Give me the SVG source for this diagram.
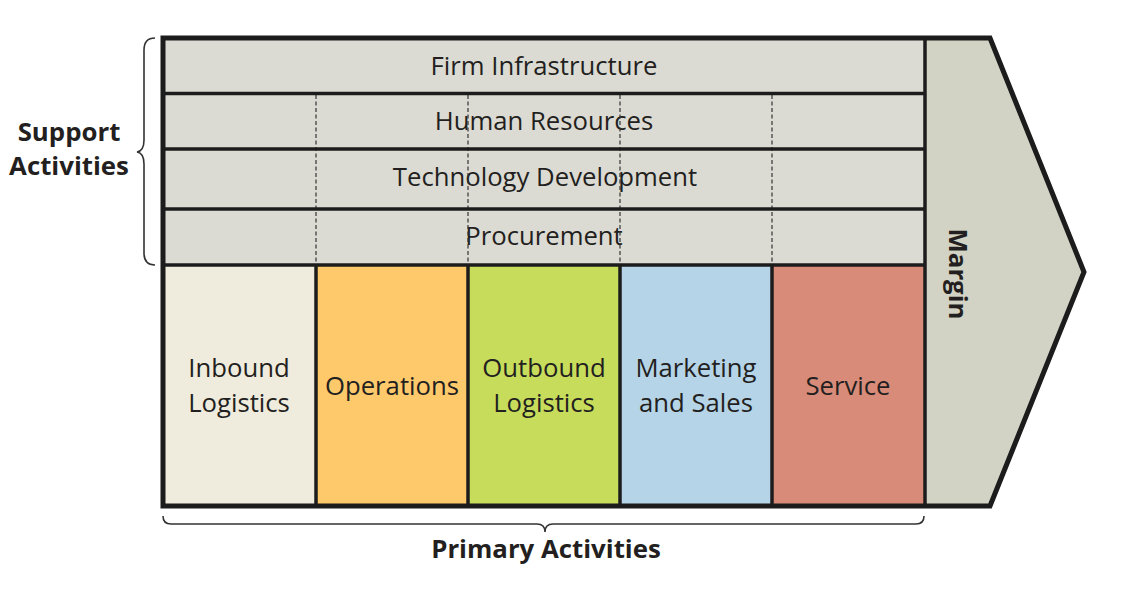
<svg xmlns="http://www.w3.org/2000/svg" width="1121" height="597" viewBox="0 0 1121 597">
<style>
.lbl{font-family:"Open Sans","Noto Sans","Liberation Sans",sans-serif;font-size:25.7px;fill:#231f20;text-anchor:middle}
.bold{font-family:"Open Sans","Noto Sans","Liberation Sans",sans-serif;font-size:25.8px;font-weight:bold;fill:#231f20;text-anchor:middle}
.frame{fill:none;stroke:#1c1c1c;stroke-width:5;stroke-linejoin:miter}
.div{stroke:#1c1c1c;stroke-width:3.5;fill:none}
.dash{stroke:#333;stroke-width:1.2;stroke-dasharray:4 2.5;fill:none}
.brace{fill:none;stroke:#333;stroke-width:1.6}
</style>
<rect width="1121" height="597" fill="#fff"/>
<g id="support">
  <rect x="163" y="38" width="762" height="227" fill="#dcdbd3"/>
  <g id="firm-infrastructure"><text class="lbl" x="544" y="75">Firm Infrastructure</text></g>
  <g id="human-resources"><text class="lbl" x="544" y="130">Human Resources</text></g>
  <g id="technology-development"><text class="lbl" x="545" y="186">Technology Development</text></g>
  <g id="procurement"><text class="lbl" x="544" y="245">Procurement</text></g>
</g>
<g id="margin">
  <polygon points="925,38 990,38 1084,272 990,506 925,506" fill="#d3d3c5"/>
  <text class="bold" transform="translate(949,274) rotate(90)">Margin</text>
</g>
<g id="inbound-logistics">
  <rect x="163" y="265" width="153" height="241" fill="#efebdd"/>
  <text class="lbl" x="239" y="377">Inbound</text>
  <text class="lbl" x="239" y="412">Logistics</text>
</g>
<g id="operations">
  <rect x="316" y="265" width="152" height="241" fill="#fec96b"/>
  <text class="lbl" x="392" y="395">Operations</text>
</g>
<g id="outbound-logistics">
  <rect x="468" y="265" width="152" height="241" fill="#c8dc5c"/>
  <text class="lbl" x="544" y="377">Outbound</text>
  <text class="lbl" x="544" y="412">Logistics</text>
</g>
<g id="marketing-sales">
  <rect x="620" y="265" width="152" height="241" fill="#b5d4e7"/>
  <text class="lbl" x="696" y="377">Marketing</text>
  <text class="lbl" x="696" y="412">and Sales</text>
</g>
<g id="service">
  <rect x="772" y="265" width="153" height="241" fill="#d98b79"/>
  <text class="lbl" x="848" y="395">Service</text>
</g>
<g id="connectors">
  <line class="dash" x1="316" y1="95" x2="316" y2="264"/>
  <line class="dash" x1="468" y1="95" x2="468" y2="264"/>
  <line class="dash" x1="620" y1="95" x2="620" y2="264"/>
  <line class="dash" x1="772" y1="95" x2="772" y2="264"/>
  <line class="div" x1="163" y1="93.5" x2="925" y2="93.5"/>
  <line class="div" x1="163" y1="149" x2="925" y2="149"/>
  <line class="div" x1="163" y1="209" x2="925" y2="209"/>
  <line class="div" x1="163" y1="265" x2="925" y2="265" stroke-width="4"/>
  <line class="div" x1="316" y1="265" x2="316" y2="506" stroke-width="4"/>
  <line class="div" x1="468" y1="265" x2="468" y2="506" stroke-width="4"/>
  <line class="div" x1="620" y1="265" x2="620" y2="506" stroke-width="4"/>
  <line class="div" x1="772" y1="265" x2="772" y2="506" stroke-width="4"/>
  <line class="div" x1="925" y1="38" x2="925" y2="506" stroke-width="4"/>
  <path class="frame" d="M163,38 H990 L1084,272 L990,506 H163 Z"/>
  <path class="brace" d="M155,38 Q144,38 144,50 V140 Q144,151 137,152 Q144,153 144,164 V253 Q144,265 155,265"/>
  <path class="brace" d="M163,516 Q163,524 171,524 H537 Q545,524 545,532 Q545,524 553,524 H916 Q924,524 924,516"/>
</g>
<g id="support-activities-label">
  <text class="bold" x="69" y="141">Support</text>
  <text class="bold" x="69" y="175">Activities</text>
</g>
<g id="primary-activities-label">
  <text class="bold" x="546" y="558">Primary Activities</text>
</g>
</svg>
